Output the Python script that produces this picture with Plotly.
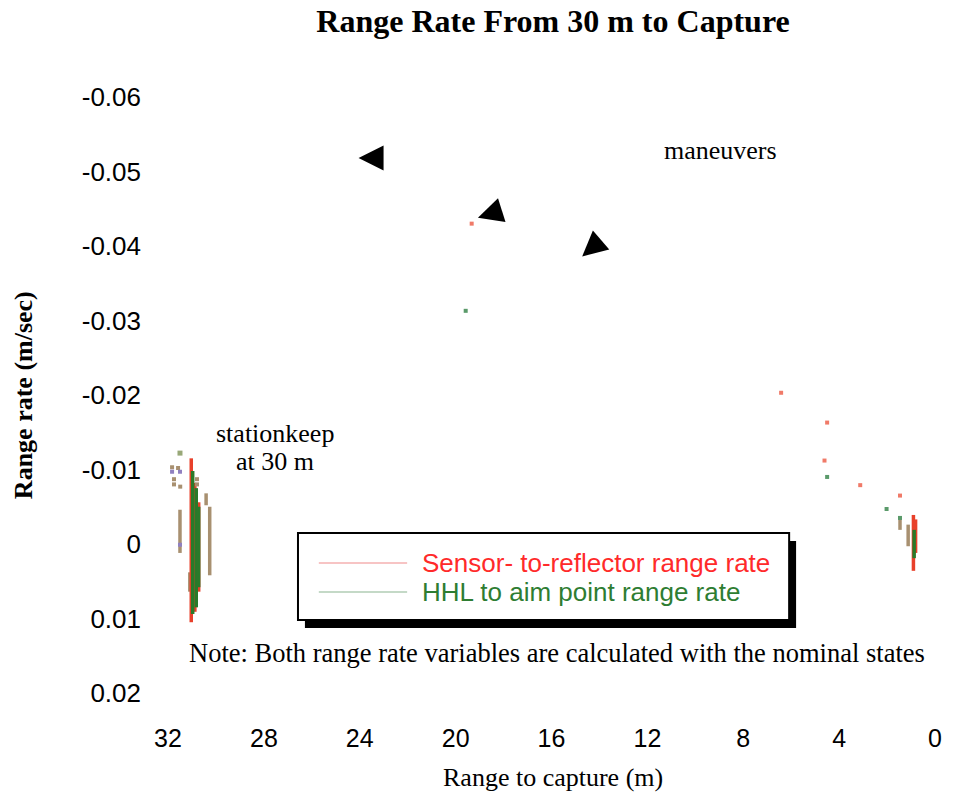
import plotly.graph_objects as go

# ---------------- data (range to capture in m, range rate in m/sec) ----------------
# vertical streaks of samples while stationkeeping at ~30 m and near capture
red_seg_range = [31.03, 30.88, 30.72, 0.90, 0.81]
red_seg_top = [-0.0115, -0.0082, -0.0056, -0.0039, -0.0033]
red_seg_bottom = [0.0105, 0.0091, 0.0064, 0.0036, 0.0012]

green_seg_range = [30.97, 30.82, 30.72, 0.87]
green_seg_top = [-0.0098, -0.0075, -0.0050, -0.0019]
green_seg_bottom = [0.0094, 0.0085, 0.0058, 0.0019]

tan_seg_range = [31.50, 30.26, 31.09, 30.41, 1.46, 1.12]
tan_seg_top = [-0.0046, -0.0050, 0.0038, -0.0068, -0.0034, -0.0026]
tan_seg_bottom = [0.0012, 0.0042, 0.0064, -0.0052, -0.0019, 0.0003]

# isolated samples
red_pts_range = [19.33, 6.42, 4.50, 4.61, 3.12, 1.46]
red_pts_rate = [-0.0430, -0.0203, -0.0163, -0.0112, -0.0079, -0.0065]

green_pts_range = [19.58, 4.50, 2.02, 1.46]
green_pts_rate = [-0.0313, -0.0090, -0.0047, -0.0035]

tan_pts_range = [31.83, 31.75, 31.75, 31.58, 31.49, 30.79, 30.79]
tan_pts_rate = [-0.0103, -0.0087, -0.0080, -0.0102, -0.0077, -0.0087, -0.0080]

purple_pts_range = [31.83, 31.50, 31.50]
purple_pts_rate = [-0.0097, -0.0097, 0.0001]

olive_pts_range = [31.50]
olive_pts_rate = [-0.0122]

# maneuver arrow tips (range, rate) and tail offsets in pixels
arrow_range = [24.05, 19.07, 14.72]
arrow_rate = [-0.0518, -0.0438, -0.0386]
arrow_dx = [22, 19, 15]
arrow_dy = [0, -6, -13]

x_ticks = [32, 28, 24, 20, 16, 12, 8, 4, 0]
y_ticks = [-0.06, -0.05, -0.04, -0.03, -0.02, -0.01, 0, 0.01, 0.02]
y_tick_text = ["-0.06", "-0.05", "-0.04", "-0.03", "-0.02", "-0.01", "0", "0.01", "0.02"]

# ---------------- helpers ----------------
def segs(xs, tops, bots):
    X, Y = [], []
    for x, t, b in zip(xs, tops, bots):
        X += [x, x, None]
        Y += [t, b, None]
    return X, Y

RED = "#e8402a"
GREEN = "#2a7a2a"
TAN = "#a89070"

fig = go.Figure()

tx, ty = segs(tan_seg_range, tan_seg_top, tan_seg_bottom)
fig.add_trace(go.Scatter(x=tx, y=ty, mode="lines", line=dict(color=TAN, width=3.5),
                         showlegend=False, hoverinfo="skip"))
rx, ry = segs(red_seg_range, red_seg_top, red_seg_bottom)
fig.add_trace(go.Scatter(x=rx, y=ry, mode="lines", line=dict(color=RED, width=3.5),
                         showlegend=False, hoverinfo="skip"))
gx, gy = segs(green_seg_range, green_seg_top, green_seg_bottom)
fig.add_trace(go.Scatter(x=gx, y=gy, mode="lines", line=dict(color=GREEN, width=3.5),
                         showlegend=False, hoverinfo="skip"))

def pts(x, y, color, size=4):
    fig.add_trace(go.Scatter(x=x, y=y, mode="markers",
                             marker=dict(symbol="square", size=size, color=color, line=dict(width=0)),
                             showlegend=False, hoverinfo="skip"))

pts(tan_pts_range, tan_pts_rate, TAN)
pts(purple_pts_range, purple_pts_rate, "#9080c0")
pts(olive_pts_range, olive_pts_rate, "#98a878", 5)
pts(red_pts_range, red_pts_rate, "#f07a68")
pts(green_pts_range, green_pts_rate, "#5a9a6a")

# ---------------- layout ----------------
W, H = 954, 799
L, R, T, B = 168, 13, 97, 106

def px(xp):
    return (xp - L) / (W - L - R)

def py(yp):
    return (H - B - yp) / (H - T - B)

SERIF = "Liberation Serif, Times New Roman, serif"
SANS = "Liberation Sans, Arial, sans-serif"

fig.update_layout(
    width=W, height=H,
    margin=dict(l=L, r=R, t=T, b=B),
    paper_bgcolor="white", plot_bgcolor="white",
    title=dict(text="Range Rate From 30 m to Capture", x=553 / W, xanchor="center",
               y=1 - 21 / H, yanchor="middle", yref="container",
               font=dict(family=SERIF, size=32, color="black", weight="bold")),
    xaxis=dict(range=[32, 0], tickvals=x_ticks, ticktext=[str(v) for v in x_ticks],
               showgrid=False, zeroline=False, showline=False, ticks="",
               ticklabelstandoff=28, tickfont=dict(family=SANS, size=25, color="black")),
    yaxis=dict(range=[0.02, -0.06], tickvals=y_ticks, ticktext=y_tick_text,
               showgrid=False, zeroline=False, showline=False, ticks="",
               ticklabelstandoff=26, tickfont=dict(family=SANS, size=26, color="black")),
    showlegend=False,
)

ann = []
# axis titles
ann.append(dict(text="Range to capture (m)", xref="paper", yref="paper", x=px(556), y=py(777),
                xanchor="center", yanchor="middle", showarrow=False,
                font=dict(family=SERIF, size=26, color="black")))
ann.append(dict(text="Range rate (m/sec)", xref="paper", yref="paper", x=px(22), y=py(395),
                xanchor="center", yanchor="middle", showarrow=False, textangle=-90,
                font=dict(family=SERIF, size=26, color="black", weight="bold")))
# text labels
ann.append(dict(text="maneuvers", xref="paper", yref="paper", x=px(725), y=py(150),
                xanchor="center", yanchor="middle", showarrow=False,
                font=dict(family=SERIF, size=26, color="black")))
ann.append(dict(text="stationkeep", xref="paper", yref="paper", x=px(276), y=py(433),
                xanchor="center", yanchor="middle", showarrow=False,
                font=dict(family=SERIF, size=26, color="black")))
ann.append(dict(text="at 30 m", xref="paper", yref="paper", x=px(276), y=py(462),
                xanchor="center", yanchor="middle", showarrow=False,
                font=dict(family=SERIF, size=26, color="black")))
ann.append(dict(text="Note: Both range rate variables are calculated with the nominal states",
                xref="paper", yref="paper", x=px(560), y=py(653),
                xanchor="center", yanchor="middle", showarrow=False,
                font=dict(family=SERIF, size=26.5, color="black")))
# maneuver arrowheads
for xr, yr, dx, dy in zip(arrow_range, arrow_rate, arrow_dx, arrow_dy):
    ann.append(dict(text="", x=xr, y=yr, xref="x", yref="y", ax=dx, ay=dy,
                    showarrow=True, arrowhead=2, arrowsize=2.0, arrowwidth=2.5,
                    arrowcolor="black", standoff=0))
# legend texts
ann.append(dict(text="Sensor- to-reflector range rate", xref="paper", yref="paper",
                x=px(422), y=py(563), xanchor="left", yanchor="middle", showarrow=False,
                font=dict(family=SANS, size=26, color="#ff2a2a")))
ann.append(dict(text="HHL to aim point range rate", xref="paper", yref="paper",
                x=px(422), y=py(592), xanchor="left", yanchor="middle", showarrow=False,
                font=dict(family=SANS, size=26, color="#2e7d32")))
fig.update_layout(annotations=ann)

shapes = [
    dict(type="rect", xref="paper", yref="paper", x0=px(306), x1=px(801), y0=py(541), y1=py(628),
         fillcolor="black", line=dict(width=0), layer="above"),
    dict(type="rect", xref="paper", yref="paper", x0=px(299), x1=px(794), y0=py(533), y1=py(620),
         fillcolor="white", line=dict(color="black", width=2), layer="above"),
    dict(type="line", xref="paper", yref="paper", x0=px(320), x1=px(409), y0=py(563), y1=py(563),
         line=dict(color="#f4b0b0", width=1.5), layer="above"),
    dict(type="line", xref="paper", yref="paper", x0=px(320), x1=px(409), y0=py(592), y1=py(592),
         line=dict(color="#b0ccb4", width=1.5), layer="above"),
]
fig.update_layout(shapes=shapes)

fig.write_html("out.html")
